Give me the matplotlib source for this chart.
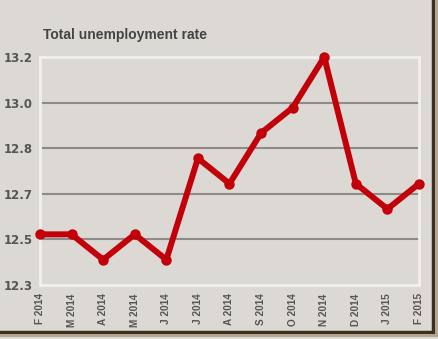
import matplotlib.pyplot as plt
import numpy as np
from matplotlib.lines import Line2D

months = ['F 2014', 'M 2014', 'A 2014', 'M 2014', 'J 2014', 'J 2014', 'A 2014',
          'S 2014', 'O 2014', 'N 2014', 'D 2014', 'J 2015', 'F 2015']
rate = [12.5, 12.5, 12.4, 12.5, 12.4, 12.8, 12.7, 12.9, 13.0, 13.2, 12.7, 12.6, 12.7]
yticks = np.linspace(12.3, 13.2, 6)

bg = '#dcd9d5'
red = '#c2000a'

fig = plt.figure(figsize=(4.39, 3.39), dpi=100, facecolor=bg)
ax = fig.add_axes([40/439, 1-285/339, 379/439, 228/339])
ax.set_facecolor(bg)

x = np.arange(len(months))
ax.plot(x, rate, color=red, linewidth=4.3, marker='o', markersize=6.5,
        solid_joinstyle='round', solid_capstyle='round', zorder=3, clip_on=False)

ax.set_xlim(0, len(months) - 1)
ax.set_ylim(12.3, 13.2)
ax.set_yticks(yticks)
ax.set_yticklabels(['%.1f' % v for v in yticks])
ax.set_xticks(x)
ax.set_xticklabels(months, rotation=90)

for v in yticks[1:-1]:
    ax.axhline(v, color='#8e8c8a', linewidth=1.5, zorder=1)

for s in ax.spines.values():
    s.set_color('#f2f0ee')
    s.set_linewidth(2)

ax.tick_params(length=0)
ax.tick_params(axis='y', pad=5, labelsize=8.5, labelcolor='#555555')
ax.tick_params(axis='x', pad=6, labelsize=7.2, labelcolor='#555555')
for lab in ax.get_yticklabels():
    lab.set_fontweight('bold')
for lab in ax.get_xticklabels():
    lab.set_fontweight('bold')
    lab.set_family('Liberation Sans')

fig.text(43/439, 1-39/339, 'Total unemployment rate', fontsize=10,
         fontweight='bold', color='#444444', family='Liberation Sans')

# dark frame on right and bottom edges
fig.add_artist(Line2D([433.5/439, 433.5/439], [1, 1-332/339], color='#3b2f20',
                      linewidth=2.5, transform=fig.transFigure))
fig.add_artist(Line2D([0, 433.5/439], [1-331.5/339, 1-331.5/339], color='#3b2f20',
                      linewidth=2.5, transform=fig.transFigure))
fig.add_artist(Line2D([436.5/439, 436.5/439], [1, 1-335/339], color='#b3a58c',
                      linewidth=2, transform=fig.transFigure))
fig.add_artist(Line2D([0, 436.5/439], [1-334.5/339, 1-334.5/339], color='#b3a58c',
                      linewidth=2, transform=fig.transFigure))

fig.savefig('out.png', dpi=100, facecolor=bg)
